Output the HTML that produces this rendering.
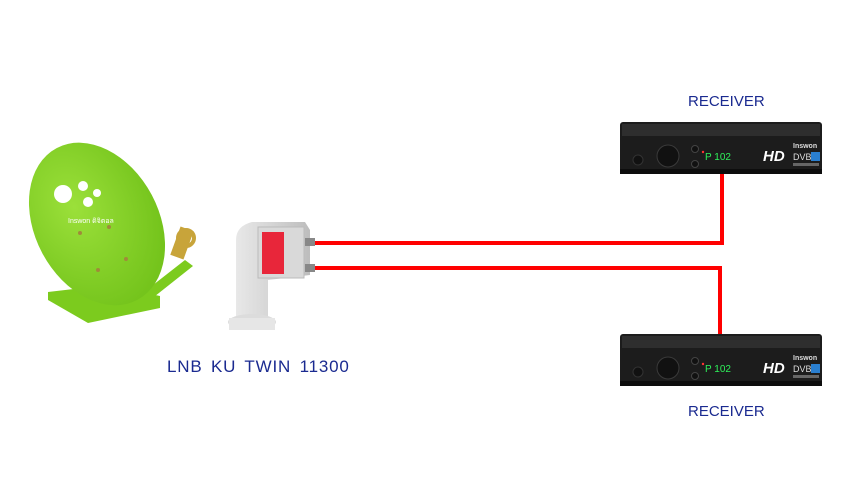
<!DOCTYPE html>
<html><head><meta charset="utf-8"><style>
html,body{margin:0;padding:0;background:#fff;width:850px;height:492px;overflow:hidden}
svg{display:block}
text{font-family:"Liberation Sans",sans-serif}
</style></head><body>
<svg width="850" height="492" viewBox="0 0 850 492" xmlns="http://www.w3.org/2000/svg">
<defs>
<radialGradient id="dish" cx="0.4" cy="0.35" r="0.7">
<stop offset="0" stop-color="#9be03a"/><stop offset="1" stop-color="#72c21a"/></radialGradient>
<linearGradient id="lnb" x1="0" x2="1"><stop offset="0" stop-color="#e8e8e8"/><stop offset="0.5" stop-color="#d4d4d4"/><stop offset="1" stop-color="#bdbdbd"/></linearGradient>
<g id="rx">
<rect x="0" y="0" width="202" height="52" rx="3" fill="#1c1c1c"/>
<rect x="2" y="2" width="198" height="12" fill="#2e2e2e"/>
<rect x="0" y="47" width="202" height="5" fill="#0d0d0d"/>
<circle cx="18" cy="38" r="5" fill="#111" stroke="#333"/>
<circle cx="48" cy="34" r="11" fill="#111" stroke="#3a3a3a"/>
<circle cx="75" cy="27" r="3.5" fill="#111" stroke="#444"/>
<circle cx="75" cy="42" r="3.5" fill="#111" stroke="#444"/>
<text x="85" y="38" font-size="10" fill="#2ef05a" font-family="Liberation Mono,monospace">P 102</text>
<circle cx="83" cy="30" r="1.2" fill="#f33"/>
<text x="143" y="39" font-size="15" font-weight="bold" font-style="italic" fill="#fff">HD</text>
<text x="173" y="26" font-size="7" font-weight="bold" fill="#ddd">Inswon</text>
<text x="173" y="38" font-size="9" fill="#ddd">DVB</text>
<rect x="191" y="30" width="9" height="9" fill="#2a7fd0"/>
<rect x="173" y="41" width="26" height="3" fill="#666"/>
</g>
</defs>

<!-- cables -->
<polyline points="315,243 722,243 722,174" fill="none" stroke="#f00" stroke-width="4"/>
<polyline points="315,268 720,268 720,336" fill="none" stroke="#f00" stroke-width="4"/>

<!-- dish -->
<polygon points="48,292 108,285 160,296 160,308 88,323 48,300" fill="#7ccb1e"/>
<polygon points="130,303 185,260 193,266 140,308" fill="#7ccb1e"/>
<ellipse cx="97" cy="224" rx="62" ry="86" transform="rotate(-28 97 224)" fill="url(#dish)"/>
<g fill="#fff">
<circle cx="63" cy="194" r="9"/><circle cx="83" cy="186" r="5"/><circle cx="88" cy="202" r="5"/><circle cx="97" cy="193" r="4"/>
</g>
<text x="68" y="223" font-size="7" fill="#fff">Inswon ดิจิตอล</text>
<circle cx="80" cy="233" r="2" fill="#a08a3a"/><circle cx="109" cy="227" r="2" fill="#a08a3a"/>
<circle cx="126" cy="259" r="2" fill="#a08a3a"/><circle cx="98" cy="270" r="2" fill="#a08a3a"/>
<rect x="175" y="228" width="14" height="30" fill="#c8a43a" transform="rotate(20 182 243)"/>
<circle cx="186" cy="238" r="8" fill="none" stroke="#c8a43a" stroke-width="4"/>

<!-- LNB -->
<path d="M236,240 Q236,226 252,222 L305,222 L310,230 L310,275 L268,280 L268,320 L236,320 Z" fill="url(#lnb)"/>
<rect x="258" y="227" width="46" height="51" fill="#d9d9d9" stroke="#bbb"/>
<rect x="262" y="232" width="22" height="42" fill="#e8263a"/>
<ellipse cx="252" cy="322" rx="24" ry="8" fill="#dcdcdc"/>
<rect x="229" y="318" width="46" height="12" fill="#e6e6e6"/>
<rect x="305" y="238" width="10" height="8" fill="#888"/>
<rect x="305" y="264" width="10" height="8" fill="#888"/>

<!-- receivers -->
<use href="#rx" x="620" y="122"/>
<use href="#rx" x="620" y="334"/>

<text x="688" y="106" font-size="15" fill="#1a2a90">RECEIVER</text>
<text x="688" y="416" font-size="15" fill="#1a2a90">RECEIVER</text>
<text x="167" y="372" font-size="17" fill="#1a2a90" letter-spacing="0.8" word-spacing="3">LNB KU TWIN 11300</text>
</svg>
</body></html>
